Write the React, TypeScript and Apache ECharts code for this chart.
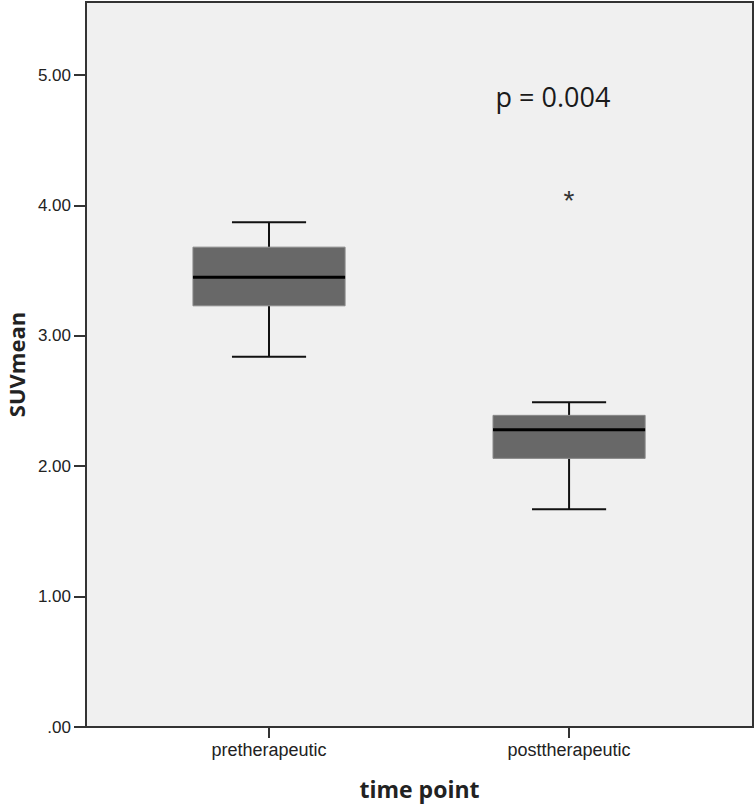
import React, { useEffect, useRef } from "react";
import * as echarts from "echarts";

const categories = ["pretherapeutic", "posttherapeutic"];
const lowerWhisker = [2.84, 1.67];
const q1 = [3.23, 2.06];
const median = [3.45, 2.28];
const q3 = [3.68, 2.39];
const upperWhisker = [3.87, 2.49];
// outliers: [category index, value]
const outliers: [number, number][] = [[1, 4.06]];
const yTicks = [0, 1, 2, 3, 4, 5];
const pLabel = "p = 0.004";

export default function App() {
  const ref = useRef<HTMLDivElement>(null);
  useEffect(() => {
    if (!ref.current) return;
    const chart = echarts.init(ref.current, undefined, { renderer: "svg" });
    const xPos = categories.map((_, i) => i + 1);
    const boxData = categories.map((_, i) => [
      xPos[i],
      lowerWhisker[i],
      q1[i],
      median[i],
      q3[i],
      upperWhisker[i],
    ]);
    const outlierData = outliers.map(([ci, v]) => [xPos[ci], v]);
    const option: any = {
      animation: false,
      backgroundColor: "#ffffff",
      grid: {
        left: 86,
        right: 3,
        top: 2,
        bottom: 77,
        show: true,
        backgroundColor: "#f0f0f0",
        borderColor: "#333333",
        borderWidth: 2,
        containLabel: false,
        outerBoundsMode: "none",
      },
      xAxis: {
        type: "value",
        min: 0.39,
        max: 2.613,
        splitLine: { show: false },
        axisLine: { show: false },
        axisTick: {
          show: true,
          length: 11,
          lineStyle: { color: "#333", width: 2 },
          customValues: xPos,
        },
        axisLabel: {
          customValues: xPos,
          formatter: (v: number) => categories[Math.round(v) - 1] ?? "",
          fontFamily: "Liberation Sans, Arial, sans-serif",
          fontSize: 18,
          color: "#222",
          margin: 14,
        },
        name: "time point",
        nameLocation: "middle",
        nameGap: 50,
        nameTextStyle: {
          fontFamily: "Open Sans, sans-serif",
          fontWeight: "bold",
          fontSize: 23,
          color: "#222",
        },
      },
      yAxis: {
        type: "value",
        min: 0,
        max: 5.56,
        splitLine: { show: false },
        axisLine: { show: false },
        axisTick: {
          show: true,
          length: 12,
          lineStyle: { color: "#333", width: 2 },
          customValues: yTicks,
        },
        axisLabel: {
          customValues: yTicks,
          formatter: (v: number) => (v === 0 ? ".00" : v.toFixed(2)),
          fontFamily: "Liberation Sans, Arial, sans-serif",
          fontSize: 17,
          color: "#222",
          margin: 15,
        },
        name: "SUVmean",
        nameLocation: "middle",
        nameGap: 59,
        nameTextStyle: {
          fontFamily: "Open Sans, sans-serif",
          fontWeight: "bold",
          fontSize: 22,
          lineHeight: 22,
          color: "#222",
        },
      },
      graphic: [
        {
          type: "text",
          x: 553,
          y: 96,
          style: {
            text: pLabel,
            fontFamily: "Open Sans, sans-serif",
            fontSize: 27,
            fill: "#1a1a1a",
            textAlign: "center",
            textVerticalAlign: "middle",
          },
        },
      ],
      series: [
        {
          type: "custom",
          data: boxData,
          encode: { x: 0, y: [1, 2, 3, 4, 5] },
          renderItem: (params: any, api: any) => {
            const x = api.value(0);
            const pLow = api.coord([x, api.value(1)]);
            const pQ1 = api.coord([x, api.value(2)]);
            const pMed = api.coord([x, api.value(3)]);
            const pQ3 = api.coord([x, api.value(4)]);
            const pUp = api.coord([x, api.value(5)]);
            const boxW = api.size([0.507, 0])[0];
            const capW = api.size([0.247, 0])[0];
            const cx = pMed[0];
            const lineStyle = { stroke: "#111", lineWidth: 2 };
            return {
              type: "group",
              children: [
                { type: "line", shape: { x1: cx, y1: pLow[1], x2: cx, y2: pQ1[1] }, style: lineStyle },
                { type: "line", shape: { x1: cx, y1: pQ3[1], x2: cx, y2: pUp[1] }, style: lineStyle },
                { type: "line", shape: { x1: cx - capW / 2, y1: pLow[1], x2: cx + capW / 2, y2: pLow[1] }, style: lineStyle },
                { type: "line", shape: { x1: cx - capW / 2, y1: pUp[1], x2: cx + capW / 2, y2: pUp[1] }, style: lineStyle },
                {
                  type: "rect",
                  shape: { x: cx - boxW / 2, y: pQ3[1], width: boxW, height: pQ1[1] - pQ3[1] },
                  style: { fill: "#686868", stroke: "#8a8a8a", lineWidth: 1 },
                },
                {
                  type: "line",
                  shape: { x1: cx - boxW / 2, y1: pMed[1], x2: cx + boxW / 2, y2: pMed[1] },
                  style: { stroke: "#000", lineWidth: 3 },
                },
              ],
            };
          },
        },
        {
          type: "custom",
          data: outlierData,
          encode: { x: 0, y: 1 },
          renderItem: (params: any, api: any) => {
            const p = api.coord([api.value(0), api.value(1)]);
            return {
              type: "text",
              x: p[0],
              y: p[1] + 3,
              style: {
                text: "*",
                fontFamily: "Liberation Sans, Arial, sans-serif",
                fontSize: 28,
                fill: "#333",
                textAlign: "center",
                textVerticalAlign: "middle",
              },
            };
          },
        },
      ],
    };
    chart.setOption(option);
    return () => chart.dispose();
  }, []);
  return (
    <div
      ref={ref}
      style={{ position: "fixed", left: 0, top: 0, width: 756, height: 804 }}
    />
  );
}
